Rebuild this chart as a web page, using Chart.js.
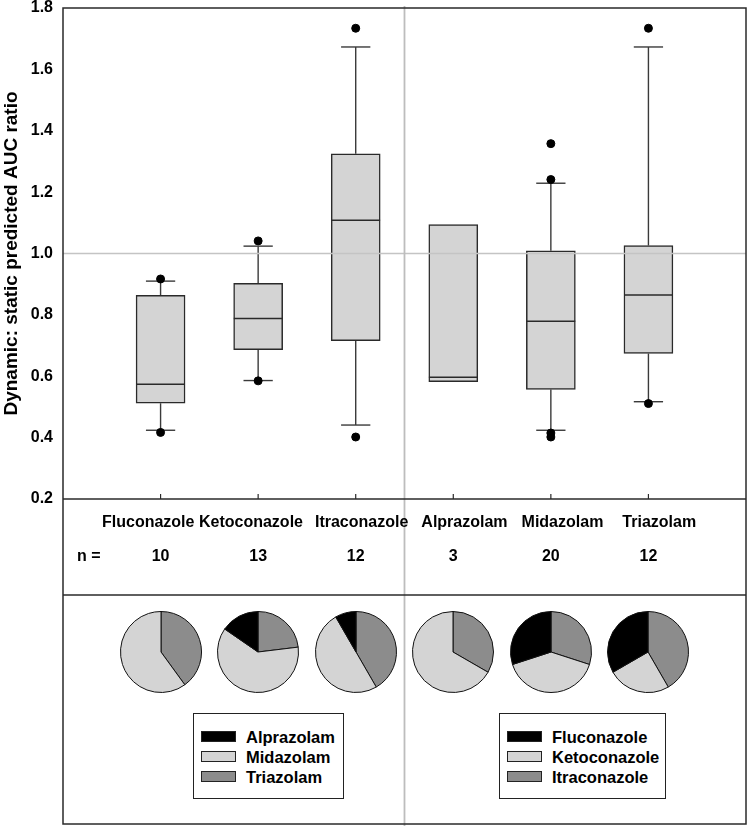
<!DOCTYPE html>
<html>
<head>
<meta charset="utf-8">
<script src="https://cdn.jsdelivr.net/npm/chart.js@4/dist/chart.umd.min.js"></script>
<style>
html,body{margin:0;padding:0;background:#fff;}
#wrap{position:relative;width:751px;height:826px;overflow:hidden;background:#fff;}
#main{position:absolute;left:0;top:0;}
.pie{position:absolute;}
.legend{position:absolute;box-sizing:border-box;border:1.5px solid #222;background:#fff;font:bold 16.5px "Liberation Sans", Arial, sans-serif;color:#000;}
.legend .row{position:absolute;left:0;height:20px;line-height:20px;white-space:nowrap;}
.legend .sw{position:absolute;top:4px;width:35px;height:11px;box-sizing:border-box;border:1px solid #222;}
.legend .tx{position:absolute;left:52px;top:0;}
</style>
</head>
<body>
<div id="wrap">
  <canvas id="main" width="751" height="826"></canvas>
</div>
<script>
// ---------- data ----------
const categories = ['Fluconazole','Ketoconazole','Itraconazole','Alprazolam','Midazolam','Triazolam'];
const nValues = [10, 13, 12, 3, 20, 12];
const q1Values = [0.512, 0.687, 0.716, 0.582, 0.557, 0.674];
const medianValues = [0.574, 0.788, 1.108, 0.597, 0.779, 0.865];
const q3Values = [0.864, 0.903, 1.325, 1.094, 1.009, 1.026];
const whiskerLow = [0.424, 0.586, 0.441, null, 0.424, 0.517];
const whiskerHigh = [0.910, 1.024, 1.673, null, 1.229, 1.673];
const outlierValues = [[0.917, 0.417], [1.041, 0.585], [1.734, 0.402], [], [1.358, 1.241, 0.415, 0.402], [1.734, 0.511]];
const yTickValues = [0.2, 0.4, 0.6, 0.8, 1.0, 1.2, 1.4, 1.6, 1.8];
const yTitle = 'Dynamic: static predicted AUC ratio';
const referenceLine = 1.0;

const substrateNames = ['Alprazolam', 'Midazolam', 'Triazolam'];
const inhibitorNames = ['Fluconazole', 'Ketoconazole', 'Itraconazole'];
// inhibitor pies: counts of [Alprazolam, Midazolam, Triazolam]
const fluconazoleMix = [0, 6, 4];
const ketoconazoleMix = [2, 8, 3];
const itraconazoleMix = [1, 6, 5];
// substrate pies: counts of [Fluconazole, Ketoconazole, Itraconazole]
const alprazolamMix = [0, 2, 1];
const midazolamMix = [6, 8, 6];
const triazolamMix = [4, 3, 5];
const pieMixes = [fluconazoleMix, ketoconazoleMix, itraconazoleMix, alprazolamMix, midazolamMix, triazolamMix];

// ---------- styles ----------
const FONT = '"Liberation Sans", Arial, sans-serif';
const pieColors = ['#000000', '#d4d4d4', '#8c8c8c'];
const BOX_FILL = '#d4d4d4';
const LINE = '#2a2a2a';
const FRAME_BOTTOM = 824;
const TABLE_BOTTOM = 595;
const PIE_CY = 652;
const LABEL_ROW_LEFT = 102;          // the name row is typeset as one line
const LABEL_GAPS = [4.5, 12, 13, 14, 19];

const boxPlugin = {
  id: 'boxExtras',
  beforeDatasetsDraw(chart) {
    const {ctx, scales: {x, y}} = chart;
    ctx.save();
    ctx.strokeStyle = '#3a3a3a';
    ctx.lineWidth = 1.4;
    categories.forEach((c, i) => {
      if (whiskerHigh[i] == null) return;
      const cx = x.getPixelForValue(i + 1);
      const capL = x.getPixelForValue(i + 1 - 0.15), capR = x.getPixelForValue(i + 1 + 0.15);
      const seg = (a, b) => { ctx.beginPath(); ctx.moveTo(cx, y.getPixelForValue(a)); ctx.lineTo(cx, y.getPixelForValue(b)); ctx.stroke(); };
      seg(q3Values[i], whiskerHigh[i]);
      seg(q1Values[i], whiskerLow[i]);
      [whiskerHigh[i], whiskerLow[i]].forEach(v => {
        const py = y.getPixelForValue(v);
        ctx.beginPath(); ctx.moveTo(capL, py); ctx.lineTo(capR, py); ctx.stroke();
      });
    });
    ctx.restore();
  },
  afterDatasetsDraw(chart) {
    const {ctx, chartArea: a, scales: {x, y}} = chart;
    ctx.save();
    // medians
    ctx.strokeStyle = LINE; ctx.lineWidth = 1.5;
    categories.forEach((c, i) => {
      const l = x.getPixelForValue(i + 1 - 0.25), r = x.getPixelForValue(i + 1 + 0.25);
      const py = y.getPixelForValue(medianValues[i]);
      ctx.beginPath(); ctx.moveTo(l, py); ctx.lineTo(r, py); ctx.stroke();
    });
    // reference line at 1.0
    ctx.strokeStyle = '#c4c4c4'; ctx.lineWidth = 1.6;
    const ry = y.getPixelForValue(referenceLine);
    ctx.beginPath(); ctx.moveTo(a.left, ry); ctx.lineTo(a.right, ry); ctx.stroke();
    // vertical divider between inhibitors and substrates
    const vx = x.getPixelForValue(3.5);
    ctx.strokeStyle = '#bdbdbd'; ctx.lineWidth = 1.8;
    ctx.beginPath(); ctx.moveTo(vx, a.top - 2); ctx.lineTo(vx, chart.height); ctx.stroke();
    // frame
    ctx.strokeStyle = LINE; ctx.lineWidth = 1.5;
    ctx.strokeRect(a.left, a.top, a.right - a.left, FRAME_BOTTOM - a.top);
    ctx.beginPath(); ctx.moveTo(a.left, a.bottom); ctx.lineTo(a.right, a.bottom); ctx.stroke();
    ctx.beginPath(); ctx.moveTo(a.left, TABLE_BOTTOM); ctx.lineTo(a.right, TABLE_BOTTOM); ctx.stroke();
    // inner x ticks
    ctx.lineWidth = 1.2;
    categories.forEach((c, i) => {
      const px = x.getPixelForValue(i + 1);
      ctx.beginPath(); ctx.moveTo(px, a.bottom); ctx.lineTo(px, a.bottom - 5); ctx.stroke();
    });
    // table text
    ctx.fillStyle = '#000';
    ctx.font = 'bold 16px ' + FONT;
    ctx.textBaseline = 'middle';
    ctx.textAlign = 'left';
    let tx = LABEL_ROW_LEFT;
    categories.forEach((c, i) => {
      ctx.fillText(c, tx, 523);
      tx += ctx.measureText(c).width + (LABEL_GAPS[i] || 0);
    });
    ctx.fillText('n =', 77, 557);
    ctx.textAlign = 'center';
    categories.forEach((c, i) => {
      ctx.fillText(String(nValues[i]), x.getPixelForValue(i + 1), 557);
    });
    ctx.restore();
  }
};

const outlierPoints = [];
outlierValues.forEach((arr, i) => arr.forEach(v => outlierPoints.push({x: i + 1, y: v})));

const chart = new Chart(document.getElementById('main'), {
  type: 'bar',
  data: {
    datasets: [
      {
        type: 'scatter',
        label: 'Outliers',
        data: outlierPoints,
        pointRadius: 4,
        pointBackgroundColor: '#000',
        pointBorderColor: '#000',
        order: 0
      },
      {
        type: 'bar',
        label: 'Interquartile range',
        data: categories.map((c, i) => ({x: i + 1, y: [q1Values[i], q3Values[i]]})),
        backgroundColor: BOX_FILL,
        borderColor: LINE,
        borderWidth: 1.5,
        borderSkipped: false,
        barThickness: 49,
        order: 1
      }
    ]
  },
  options: {
    responsive: false,
    animation: false,
    events: [],
    layout: {padding: {top: 8, right: 3, bottom: 327, left: 0}},
    plugins: {legend: {display: false}, tooltip: {enabled: false}},
    scales: {
      x: {
        type: 'linear', min: 0, max: 7, offset: false,
        grid: {display: false, drawTicks: false},
        border: {display: false},
        ticks: {display: false},
        afterFit(s) { s.height = 0; s.paddingLeft = 0; s.paddingRight = 0; }
      },
      y: {
        min: 0.2, max: 1.8,
        afterBuildTicks(s) { s.ticks = yTickValues.map(v => ({value: v})); },
        ticks: {
          callback: v => Number(v).toFixed(1),
          color: '#000',
          font: {family: FONT, size: 16, weight: 'bold'},
          padding: 10
        },
        grid: {display: false, drawTicks: false},
        border: {display: false},
        title: {
          display: true, text: yTitle, color: '#000',
          font: {family: FONT, size: 19, weight: 'bold'},
          padding: {top: 0, bottom: 0}
        },
        afterFit(s) { s.width = 63; s.paddingTop = 0; s.paddingBottom = 0; }
      }
    }
  },
  plugins: [boxPlugin]
});

// ---------- pies ----------
const wrap = document.getElementById('wrap');
const xs = chart.scales.x;
const PIE_SIZE = 84;
pieMixes.forEach((mix, i) => {
  const cv = document.createElement('canvas');
  cv.className = 'pie';
  cv.width = PIE_SIZE; cv.height = PIE_SIZE;
  const cx = xs.getPixelForValue(i + 1);
  cv.style.left = (cx - PIE_SIZE / 2) + 'px';
  cv.style.top = (PIE_CY - PIE_SIZE / 2) + 'px';
  wrap.appendChild(cv);
  const names = i < 3 ? substrateNames : inhibitorNames;
  new Chart(cv, {
    type: 'pie',
    data: {
      labels: names.slice().reverse(),
      datasets: [{
        data: mix.slice().reverse(),
        backgroundColor: pieColors.slice().reverse(),
        borderColor: '#111',
        borderWidth: 1
      }]
    },
    options: {
      responsive: false, animation: false, events: [],
      layout: {padding: 1},
      plugins: {legend: {display: false}, tooltip: {enabled: false}}
    }
  });
});

// ---------- legends ----------
function makeLegend(names, left, top, width) {
  const box = document.createElement('div');
  box.className = 'legend';
  box.style.left = left + 'px'; box.style.top = top + 'px';
  box.style.width = width + 'px'; box.style.height = '86px';
  names.forEach((n, k) => {
    const row = document.createElement('div');
    row.className = 'row';
    row.style.top = (13 + k * 20) + 'px';
    const sw = document.createElement('div');
    sw.className = 'sw'; sw.style.left = '7px'; sw.style.background = pieColors[k];
    const tx = document.createElement('span');
    tx.className = 'tx'; tx.textContent = n;
    row.appendChild(sw); row.appendChild(tx);
    box.appendChild(row);
  });
  wrap.appendChild(box);
}
makeLegend(substrateNames, 193, 713, 151);
makeLegend(inhibitorNames, 499, 713, 167);
</script>
</body>
</html>
